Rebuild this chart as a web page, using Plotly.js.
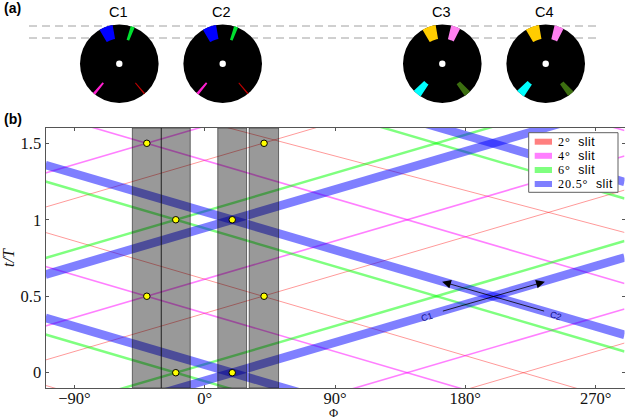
<!DOCTYPE html>
<html><head><meta charset="utf-8">
<script src="https://cdn.plot.ly/plotly-3.0.1.min.js"></script>
<style>html,body{margin:0;padding:0;background:#fff}#g{width:625px;height:420px}</style>
</head><body><div id="g"></div>
<script>
// ---- panel (b) data ----
const phiEnds = [-110, 290];
// each line: [t/T at Phi=-110, t/T at Phi=290]
const redLines = [[-0.917,0.194],[0.083,1.194],[1.083,2.194],[-0.083,-1.194],[0.917,-0.194],[1.917,0.917]];
const magentaLines = [[-0.694,0.417],[0.306,1.417],[1.306,2.417],[0.694,-0.417],[1.694,0.583],[2.694,1.583]];
const greenLines = [[-0.25,0.861],[0.75,1.861],[0.25,-0.861],[1.25,0.139],[2.25,1.139]];
const blueLines = [[-0.358,0.753],[0.642,1.753],[0.358,-0.753],[1.358,0.247],[2.358,1.247]];
const bandEdges = [[-50,-30],[-30,-10],[9,28.9],[30.7,51]];
const dotPhi = [-40,-20,19,41,-40,-20,19,41];
const dotT   = [1.5,1,1,1.5,0.5,0,0,0.5];
const xTickVals = [-90,0,90,180,270];
const xTickText = ['\u221290\u00b0','0\u00b0','90\u00b0','180\u00b0','270\u00b0'];
const yTickVals = [0,0.5,1,1.5];
const yTickText = ['0','0.5','1','1.5'];
const tRange = [-0.1,1.6];
const legendLabels = ['2\u00b0','4\u00b0','6\u00b0','20.5\u00b0'];
const legendColors = ['rgba(255,0,0,0.5)','rgba(255,0,255,0.5)','rgba(0,255,0,0.5)','rgba(0,0,255,0.5)'];
const slitWidths = [0.8,1.6,2.45,8.6];
// ---- panel (a) data ----
const diskNames = ['C1','C2','C3','C4'];
const diskX = [119.3,222.7,442.3,545.7];
const diskY = 63.7, diskR = 39.3, holeR = 3.2, slitInner = 25;
const slitAngles = [-20,20,-140,140];
const slitDegA = [20.5,6,4,2];
const slitDegB = [20.5,14,13,10];
const colorsA = ['#0000ff','#00e030','#ff20d0','#c00000'];
const colorsB = ['#ffcc00','#ff80f0','#00ffff','#3c6e10'];
const dashY = [26,38];
const dashX = [29,599];

const traces = [];
function addLines(list, color, width){
  list.forEach(l => traces.push({x:phiEnds, y:l, mode:'lines', hoverinfo:'skip', showlegend:false,
    line:{color:color, width:width}}));
}
addLines(redLines, legendColors[0], slitWidths[0]);
addLines(magentaLines, legendColors[1], slitWidths[1]);
addLines(greenLines, legendColors[2], slitWidths[2]);
addLines(blueLines, legendColors[3], slitWidths[3]);
bandEdges.forEach(b => traces.push({x:[b[0],b[0],b[1],b[1],b[0]], y:[tRange[0],tRange[1],tRange[1],tRange[0],tRange[0]],
  mode:'lines', fill:'toself', fillcolor:'rgba(0,0,0,0.4)', line:{color:'rgba(20,20,20,0.7)', width:0.8}, hoverinfo:'skip', showlegend:false}));
traces.push({x:dotPhi, y:dotT, mode:'markers', showlegend:false, hoverinfo:'skip',
  marker:{color:'#ffff00', size:6.5, line:{color:'#000', width:1}}});
dashY.forEach(y => traces.push({x:dashX, y:[y,y], xaxis:'x2', yaxis:'y2', mode:'lines', showlegend:false, hoverinfo:'skip',
  line:{color:'#a0a0a0', width:1, dash:'8px,5px'}}));

const shapes = [], annotations = [];
function rect(x0,x1,y0,y1,fill,line){
  return {type:'rect',xref:'x2',yref:'y2',x0,x1,y0,y1,fillcolor:fill,line:line||{width:0},layer:'above'};
}
function wedge(cx,cy,ang,w,color){
  const pts=[], n=6, a0=ang-w/2, a1=ang+w/2;
  for(let i=0;i<=n;i++){const a=(a0+(a1-a0)*i/n)*Math.PI/180; pts.push([cx+diskR*Math.sin(a),cy-diskR*Math.cos(a)]);}
  for(let i=n;i>=0;i--){const a=(a0+(a1-a0)*i/n)*Math.PI/180; pts.push([cx+slitInner*Math.sin(a),cy-slitInner*Math.cos(a)]);}
  return {type:'path',xref:'x2',yref:'y2',layer:'above',fillcolor:color,line:{width:0},
    path:'M'+pts.map(p=>p[0].toFixed(2)+','+p[1].toFixed(2)).join('L')+'Z'};
}
diskX.forEach((cx,i)=>{
  shapes.push({type:'circle',xref:'x2',yref:'y2',layer:'above',x0:cx-diskR,x1:cx+diskR,y0:diskY-diskR,y1:diskY+diskR,fillcolor:'#000',line:{width:0}});
  const cols = i<2?colorsA:colorsB, degs = i<2?slitDegA:slitDegB;
  slitAngles.forEach((a,k)=>shapes.push(wedge(cx,diskY,a,degs[k],cols[k])));
  shapes.push({type:'circle',xref:'x2',yref:'y2',layer:'above',x0:cx-holeR,x1:cx+holeR,y0:diskY-holeR,y1:diskY+holeR,fillcolor:'#fff',line:{width:0}});
  annotations.push({xref:'x2',yref:'y2',x:cx-1,y:12,text:diskNames[i],showarrow:false,font:{family:'Liberation Sans',size:14.5,color:'#000'}});
});
// panel letters
annotations.push({xref:'x2',yref:'y2',x:2,y:8,xanchor:'left',text:'<b>(a)</b>',showarrow:false,font:{family:'Liberation Sans',size:14,color:'#000'}});
annotations.push({xref:'x2',yref:'y2',x:2,y:119,xanchor:'left',text:'<b>(b)</b>',showarrow:false,font:{family:'Liberation Sans',size:14,color:'#000'}});
// axis titles
annotations.push({xref:'x2',yref:'y2',x:333.7,y:412.8,text:'\u03a6',showarrow:false,font:{family:'Liberation Serif',size:12.5,color:'#111'}});
annotations.push({xref:'x2',yref:'y2',x:8,y:258,text:'<i>t/T</i>',textangle:-90,showarrow:false,font:{family:'Liberation Serif',size:16,color:'#111'}});
// legend
shapes.push(rect(528.7,618,132.7,192.3,'#fff',{color:'#606060',width:1}));
const legendY=[141.7,155.8,170,184];
legendLabels.forEach((t,i)=>{
  shapes.push(rect(534.7,552,legendY[i]-3,legendY[i]+3,legendColors[i]));
  annotations.push({xref:'x2',yref:'y2',x:556,y:legendY[i],xanchor:'left',showarrow:false,
    text:'<span style="letter-spacing:0.8px">'+t+'  </span><span style="font-family:Liberation Sans;letter-spacing:0.5px">slit</span>',font:{family:'Liberation Serif',size:12.2,color:'#000'}});
});
// crossing arrows
annotations.push({xref:'x',yref:'y',axref:'x',ayref:'y',x:235,y:0.595,ax:163.5,ay:0.40,text:'',showarrow:true,arrowhead:2,arrowsize:2.2,arrowwidth:0.8,arrowcolor:'#000'});
annotations.push({xref:'x',yref:'y',axref:'x',ayref:'y',x:164,y:0.595,ax:235.5,ay:0.40,text:'',showarrow:true,arrowhead:2,arrowsize:2.2,arrowwidth:0.8,arrowcolor:'#000'});
annotations.push({xref:'x2',yref:'y2',x:427,y:316.7,text:'C1',textangle:-17,showarrow:false,font:{family:'Liberation Sans',size:9,color:'#10108a'}});
annotations.push({xref:'x2',yref:'y2',x:556,y:316,text:'C2',textangle:17,showarrow:false,font:{family:'Liberation Sans',size:9,color:'#10108a'}});

const axisFont = {family:'Liberation Serif',size:16.5,color:'#111'};
const layout = {
  width:625,height:420,margin:{l:0,r:0,t:0,b:0,pad:0},paper_bgcolor:'#fff',plot_bgcolor:'rgba(0,0,0,0)',showlegend:false,
  xaxis:{domain:[45.5/625,624.5/625],range:phiEnds,tickmode:'array',tickvals:xTickVals,ticktext:xTickText,ticks:'inside',ticklen:3,tickwidth:1,tickcolor:'#555',
    showline:true,linecolor:'#555',linewidth:1,mirror:'ticks',showgrid:false,zeroline:false,tickfont:axisFont,anchor:'y',layer:'above traces',ticklabelstandoff:-5},
  yaxis:{domain:[32/420,292/420],range:tRange,tickmode:'array',tickvals:yTickVals,ticktext:yTickText,ticks:'inside',ticklen:3,tickwidth:1,tickcolor:'#555',
    showline:true,linecolor:'#555',linewidth:1,mirror:'ticks',showgrid:false,zeroline:false,tickfont:axisFont,anchor:'x',layer:'above traces'},
  xaxis2:{domain:[0,1],range:[0,625],visible:false,anchor:'y2',fixedrange:true},
  yaxis2:{domain:[0,1],range:[420,0],visible:false,anchor:'x2',fixedrange:true},
  shapes:shapes,annotations:annotations
};
Plotly.newPlot('g',traces,layout,{displayModeBar:false,staticPlot:true});
</script></body></html>
